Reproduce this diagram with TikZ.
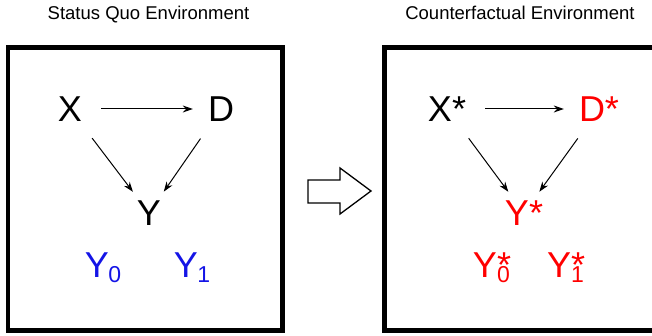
\documentclass[tikz,border=0pt]{standalone}
\usepackage{fontspec}
\setmainfont{Liberation Sans}
\usetikzlibrary{positioning, arrows.meta}
\definecolor{cfred}{HTML}{FF0000}
\definecolor{poblue}{HTML}{1414E6}
\newcommand{\lowidx}[1]{\raisebox{-5pt}{\fontsize{23}{23}\selectfont #1}}

\begin{document}
\begin{tikzpicture}[x=1pt, y=-1pt,
    var/.style={font=\fontsize{36}{36}\selectfont, inner sep=3pt},
    title/.style={font=\fontsize{18.5}{18.5}\selectfont, inner sep=0pt, anchor=base},
    env/.style={draw, line width=4.5pt, minimum width=274.5pt, minimum height=283pt},
    edge/.style={-{Stealth[length=10pt, width=7pt]}, line width=1pt,
                 shorten <=17pt, shorten >=7pt},
    across/.style={edge, shorten <=16pt, shorten >=12pt}]
  \useasboundingbox (0,0) rectangle (652,336);

  % status quo
  \node[title] (sqtitle) at (148.5,20) {Status Quo Environment};
  \node[env] (sqbox) at (145.25,189) {};
  \node[var] (X) at (70,109) {X};
  \node[var] (D) at (221,109) {D};
  \node[var] (Y) at (149,213) {Y};
  \node[var, text=poblue] (Y0) at (103,268) {Y\kern-0.5pt\lowidx{0}};
  \node[var, text=poblue] (Y1) at (192,268) {Y\kern-0.5pt\lowidx{1}};
  \draw[across] (X) -- (D);
  \draw[edge] (X) -- (Y);
  \draw[edge] (D) -- (Y);

  % big arrow between the two
  \draw[line width=1.3pt, line join=miter]
    (308,180) -- (340,180) -- (340,168) -- (371,191) -- (340,214)
    -- (340,203) -- (308,203) -- cycle;

  % counterfactual
  \node[title] (cftitle) at (520,20) {Counterfactual Environment};
  \node[env] (cfbox) at (521.75,189) {};
  \node[var] (Xs) at (447,109) {X*};
  \node[var, text=cfred] (Ds) at (599,109) {D*};
  \node[var, text=cfred] (Ys) at (524,213) {Y*};
  \node[var, text=cfred] (Y0s) at (492,268) {Y\rlap{\lowidx{0}}*};
  \node[var, text=cfred] (Y1s) at (566,268) {Y\rlap{\lowidx{1}}*};
  \draw[across] (Xs) -- (Ds);
  \draw[edge] (Xs) -- (Ys);
  \draw[edge] (Ds) -- (Ys);
\end{tikzpicture}
\end{document}
